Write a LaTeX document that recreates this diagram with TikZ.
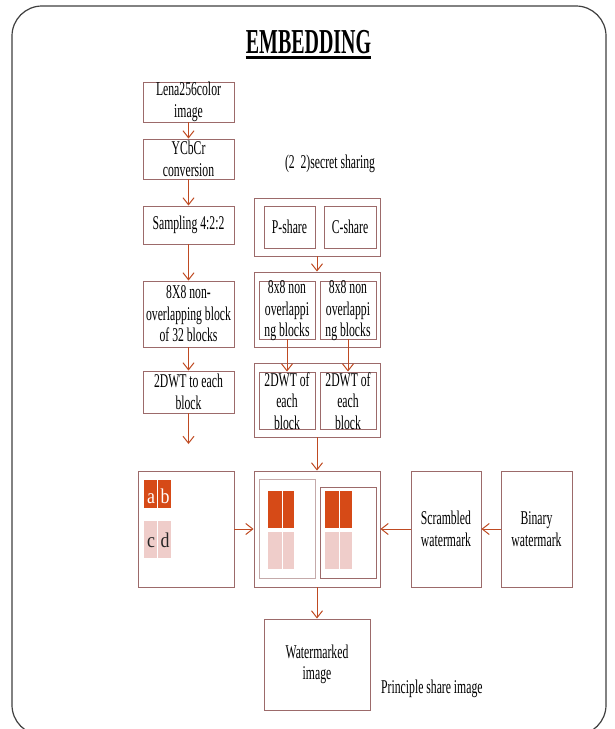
\documentclass[tikz,border=0pt]{standalone}
\usepackage{fontspec}
\setmainfont{Liberation Serif}[FakeStretch=0.6]
\newfontfamily\titlefont{Liberation Serif}[FakeStretch=0.57]
\newfontfamily\plainfont{Liberation Serif}[FakeStretch=0.85]
\usetikzlibrary{arrows.meta}
\definecolor{boxc}{HTML}{9C6A6A}
\definecolor{arrc}{HTML}{BF4A22}
\definecolor{orng}{HTML}{D64A17}
\definecolor{pale}{HTML}{EFCDCA}
\definecolor{lightb}{HTML}{C4AAAA}
\tikzset{
  box/.style={draw=boxc, line width=0.9pt, inner sep=0pt, align=center,
    font=\fontsize{19.5}{21.5}\selectfont},
  txt/.style={inner sep=0pt, align=center, font=\fontsize{19.5}{21.5}\selectfont},
  lettr/.style={inner sep=0pt, font=\plainfont\fontsize{21}{24}\selectfont},
  arr/.style={draw=arrc, line width=1pt, -{Straight Barb[length=7pt,width=11pt,line width=1pt]}},
  blkO/.style={fill=orng, draw=none},
  blkP/.style={fill=pale, draw=none}
}
\begin{document}
\begin{tikzpicture}[x=1pt,y=-1pt]
\useasboundingbox (0,0) rectangle (615,729);
\clip (0,0) rectangle (615,729);
\fill[white] (0,0) rectangle (615,729);
% frame
\draw[black!75, line width=1.2pt, rounded corners=30pt] (12,6) rectangle (606,735);
% title
\node[inner sep=0pt, anchor=base, font=\titlefont\bfseries\fontsize{35}{40}\selectfont] (title) at (308.5,53) {EMBEDDING};
\draw[line width=3pt] ([yshift=-4.5pt]title.base west) -- ([yshift=-4.5pt]title.base east);

% left column
\node[box, minimum width=91pt, minimum height=40pt] (lena) at (188.5,102) {Lena256color\\image};
\node[box, minimum width=91pt, minimum height=40pt] (ycc) at (188.5,159) {YCbCr\\conversion};
\node[box, minimum width=91pt, minimum height=38pt] (samp) at (188.5,225) {Sampling 4:2:2};
\node[box, minimum width=91pt, minimum height=66pt] (blk) at (188.5,314) {8X8 non-\\overlapping block\\of 32 blocks};
\node[box, minimum width=91pt, minimum height=42pt] (dwt) at (188.5,392) {2DWT to each\\block};
\coordinate (dwtend) at (188.5,444);
\draw[arr] (lena) -- (ycc);
\draw[arr] (ycc) -- (samp);
\draw[arr] (samp) -- (blk);
\draw[arr] (blk) -- (dwt);
\draw[arr] (dwt) -- (dwtend);

% right column
\node[txt] (ss) at (330,164) {(2\ \ 2)secret sharing};
\node[box, minimum width=126pt, minimum height=58pt] (shareO) at (317,227) {};
\node[box, minimum width=51pt, minimum height=42pt] (ps) at (289.5,227) {P-share};
\node[box, minimum width=52pt, minimum height=42pt] (cs) at (350,227) {C-share};

\node[box, minimum width=126pt, minimum height=75pt] (blkO) at (317,309.5) {};
\node[box, minimum width=56pt, minimum height=58pt] (blkA) at (287,310) {};
\node[box, minimum width=56pt, minimum height=58pt] (blkB) at (348,310) {};
\node[txt] (blkAt) at (287,311) {8x8 non\\overlappi\\ng blocks};
\node[txt] (blkBt) at (348,311) {8x8 non\\overlappi\\ng blocks};

\node[box, minimum width=126pt, minimum height=74pt] (dwtO) at (317,400) {};
\node[box, minimum width=56pt, minimum height=57pt] (dwtA) at (287,400.5) {};
\node[box, minimum width=56pt, minimum height=57pt] (dwtB) at (348,400.5) {};
\node[txt] (dwtAt) at (287,401) {2DWT of\\each\\block};
\node[txt] (dwtBt) at (348,401) {2DWT of\\each\\block};

\draw[arr] (shareO) -- (blkO);
\draw[arr] (blkA.south) -- (dwtA.north);
\draw[arr] (blkB.south) -- (dwtB.north);

% bottom row
\node[box, minimum width=96pt, minimum height=116pt] (sub) at (186,529) {};
\fill[blkO] (144,480) rectangle (157,508);
\fill[blkO] (158,480) rectangle (171,508);
\fill[blkP] (144,521) rectangle (157,558);
\fill[blkP] (158,521) rectangle (171,558);
\node[lettr, text=white, anchor=base] (la) at (151,503) {a};
\node[lettr, text=white, anchor=base] (lb) at (165,503) {b};
\node[lettr, text=black!85, anchor=base] (lc) at (151,547) {c};
\node[lettr, text=black!85, anchor=base] (ld) at (165,547) {d};

\node[box, minimum width=126pt, minimum height=116pt] (embO) at (317,529) {};
\node[box, draw=lightb, minimum width=56pt, minimum height=99pt] (embA) at (287,528.5) {};
\node[box, minimum width=56pt, minimum height=91pt] (embB) at (348,532.5) {};
\fill[blkO] (268,491) rectangle (281.5,528);
\fill[blkO] (282.5,491) rectangle (294,528);
\fill[blkP] (268,532) rectangle (281.5,569);
\fill[blkP] (282.5,532) rectangle (294,569);
\fill[blkO] (325,491) rectangle (338.5,528);
\fill[blkO] (339.5,491) rectangle (352,528);
\fill[blkP] (325,532) rectangle (338.5,569);
\fill[blkP] (339.5,532) rectangle (352,569);

\node[box, minimum width=70pt, minimum height=116pt] (scr) at (446,529) {Scrambled\\watermark};
\node[box, minimum width=71pt, minimum height=116pt] (bin) at (536.5,529) {Binary\\watermark};

\draw[arr] (dwtO) -- (embO);
\draw[arr] (sub) -- (embO);
\draw[arr] (bin) -- (scr);
\draw[arr] (scr) -- (embO);

\node[box, minimum width=106pt, minimum height=91pt] (wm) at (317,664.5) {Watermarked\\image};
\draw[arr] (embO) -- (wm);
\node[txt, anchor=west] (psi) at (381,689) {Principle share image};
\end{tikzpicture}
\end{document}
